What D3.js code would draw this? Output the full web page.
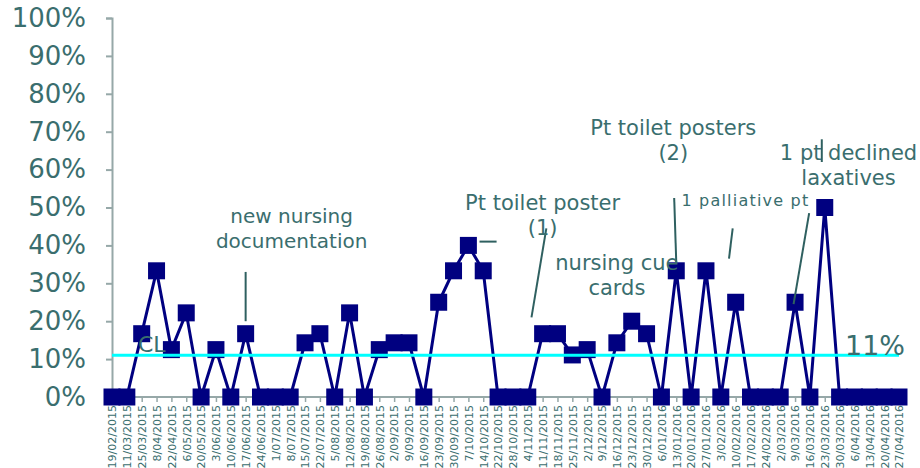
<!DOCTYPE html>
<html>
<head>
<meta charset="utf-8">
<script src="https://cdn.jsdelivr.net/npm/d3@7"></script>
<style>
  body { margin: 0; background: #fff; }
  text { font-family: "DejaVu Sans", Verdana, sans-serif; }
</style>
</head>
<body>
<script>
"use strict";

// data
var weeks = ["19/02/2015","11/03/2015","25/03/2015","8/04/2015","22/04/2015","6/05/2015","20/05/2015",
  "3/06/2015","10/06/2015","17/06/2015","24/06/2015","1/07/2015","8/07/2015","15/07/2015","22/07/2015",
  "5/08/2015","12/08/2015","19/08/2015","26/08/2015","2/09/2015","9/09/2015","16/09/2015","23/09/2015",
  "30/09/2015","7/10/2015","14/10/2015","22/10/2015","28/10/2015","4/11/2015","11/11/2015","18/11/2015",
  "25/11/2015","2/12/2015","9/12/2015","16/12/2015","23/12/2015","30/12/2015","6/01/2016","13/01/2016",
  "20/01/2016","27/01/2016","3/02/2016","10/02/2016","17/02/2016","24/02/2016","2/03/2016","9/03/2016",
  "16/03/2016","23/03/2016","30/03/2016","6/04/2016","13/04/2016","20/04/2016","27/04/2016"];

var rate = [0, 0, 0.167, 0.333, 0.125, 0.222, 0,
  0.125, 0, 0.167, 0, 0, 0, 0.143, 0.167,
  0, 0.222, 0, 0.125, 0.143, 0.143, 0, 0.25,
  0.333, 0.40, 0.333, 0, 0, 0, 0.167, 0.167,
  0.111, 0.125, 0, 0.143, 0.20, 0.167, 0, 0.333,
  0, 0.333, 0, 0.25, 0, 0, 0, 0.25,
  0, 0.50, 0, 0, 0, 0, 0];

var centreLine = 0.11;
var yTicks = [0, 0.1, 0.2, 0.3, 0.4, 0.5, 0.6, 0.7, 0.8, 0.9, 1.0];

// notes: text lines anchored on a week + a level, with a leader line
var notes = [
  { lines: ["new nursing", "documentation"], at: 12.1, level: 0.46, size: 20 },
  { lines: ["Pt toilet poster", "(1)"], at: 29.0, level: 0.493, size: 21 },
  { lines: ["nursing cue", "cards"], at: 34.0, level: 0.335, size: 21 },
  { lines: ["Pt toilet posters", "(2)"], at: 37.8, level: 0.69, size: 21 },
  { lines: ["1 pt declined", "laxatives"], at: 49.6, level: 0.625, size: 21 }
];
var leaders = [
  { from: [9, 0.33], to: [9, 0.2] },
  { from: [29.25, 0.445], to: [28.25, 0.21] },
  { from: [24.75, 0.41], to: [25.9, 0.41] },
  { from: [37.86, 0.525], to: [38, 0.355] },
  { from: [41.8, 0.445], to: [41.55, 0.365] },
  { from: [46.95, 0.485], to: [45.9, 0.245] },
  { from: [47.8, 0.68], to: [47.8, 0.62] }
];

var width = 920, height = 468;
var mLeft = 112, mRight = 899, mTop = 18, mBottom = 397;

var teal = "#3a6e6e";
var axisGrey = "#96a8a8";

var svg = d3.select("body").append("svg")
  .attr("width", width)
  .attr("height", height);

var x = d3.scalePoint().domain(d3.range(weeks.length)).range([mLeft, mRight]);
var y = d3.scaleLinear().domain([0, 1]).range([mBottom, mTop]);
var xi = d3.scaleLinear().domain([0, weeks.length - 1]).range([mLeft, mRight]);

// y axis
var yAxis = svg.append("g")
  .attr("transform", "translate(" + mLeft + ",0)")
  .call(d3.axisLeft(y).tickValues(yTicks).tickFormat(d3.format(".0%")).tickSize(6).tickPadding(20));
yAxis.select(".domain").attr("stroke", axisGrey).attr("stroke-width", 2);
yAxis.selectAll(".tick line").attr("stroke", axisGrey).attr("stroke-width", 2);
yAxis.selectAll(".tick text")
  .attr("fill", teal)
  .style("font-size", "26px")
  .style("font-family", "'DejaVu Sans', Verdana, sans-serif");

// x axis
var xAxis = svg.append("g")
  .attr("transform", "translate(0," + mBottom + ")")
  .call(d3.axisBottom(x).tickFormat(function (i) { return weeks[i]; }).tickSize(5).tickSizeOuter(0));
xAxis.select(".domain").attr("stroke", axisGrey).attr("stroke-width", 2)
  .attr("d", "M" + mLeft + ",0H" + (mRight + 3));
xAxis.selectAll(".tick line").attr("stroke", axisGrey).attr("stroke-width", 1.5);
xAxis.selectAll(".tick text")
  .attr("fill", teal)
  .style("font-size", "11px")
  .style("font-family", "'DejaVu Sans', Verdana, sans-serif")
  .attr("text-anchor", "end")
  .attr("transform", "rotate(-90)")
  .attr("x", -8)
  .attr("y", 0)
  .attr("dy", "0.35em");

// series line
var line = d3.line()
  .x(function (d, i) { return x(i); })
  .y(function (d) { return y(d); });

svg.append("path")
  .datum(rate)
  .attr("fill", "none")
  .attr("stroke", "#000080")
  .attr("stroke-width", 3)
  .attr("d", line);

var m = 17;
svg.append("g").selectAll("rect")
  .data(rate)
  .enter().append("rect")
    .attr("x", function (d, i) { return x(i) - m / 2; })
    .attr("y", function (d) { return y(d) - m / 2; })
    .attr("width", m)
    .attr("height", m)
    .attr("fill", "#000080");

// CL text sits over the markers
svg.append("text")
  .attr("x", xi(1.75))
  .attr("y", y(centreLine) - 3)
  .attr("fill", teal)
  .style("font-size", "22px")
  .text("CL");

// centre line
svg.append("line")
  .attr("x1", x(0)).attr("x2", x(weeks.length - 1))
  .attr("y1", y(centreLine)).attr("y2", y(centreLine))
  .attr("stroke", "#00ffff")
  .attr("stroke-width", 3);

svg.append("text")
  .attr("x", 905)
  .attr("y", y(centreLine))
  .attr("text-anchor", "end")
  .attr("fill", teal)
  .style("font-size", "27px")
  .text(d3.format(".0%")(centreLine));

// leader lines
svg.append("g").selectAll("line")
  .data(leaders)
  .enter().append("line")
    .attr("x1", function (d) { return xi(d.from[0]); })
    .attr("y1", function (d) { return y(d.from[1]); })
    .attr("x2", function (d) { return xi(d.to[0]); })
    .attr("y2", function (d) { return y(d.to[1]); })
    .attr("stroke", "#2f6060")
    .attr("stroke-width", 2);

// note texts
notes.forEach(function (n) {
  var t = svg.append("text")
    .attr("text-anchor", "middle")
    .attr("fill", teal)
    .style("font-size", n.size + "px");
  n.lines.forEach(function (s, k) {
    t.append("tspan")
      .attr("x", xi(n.at))
      .attr("y", y(n.level) + k * 25)
      .text(s);
  });
});

svg.append("text")
  .attr("x", xi(38.35))
  .attr("y", y(0.5) - 2)
  .attr("fill", teal)
  .style("font-size", "16px")
  .style("letter-spacing", "1.2px")
  .text("1 palliative pt");
</script>
</body>
</html>
